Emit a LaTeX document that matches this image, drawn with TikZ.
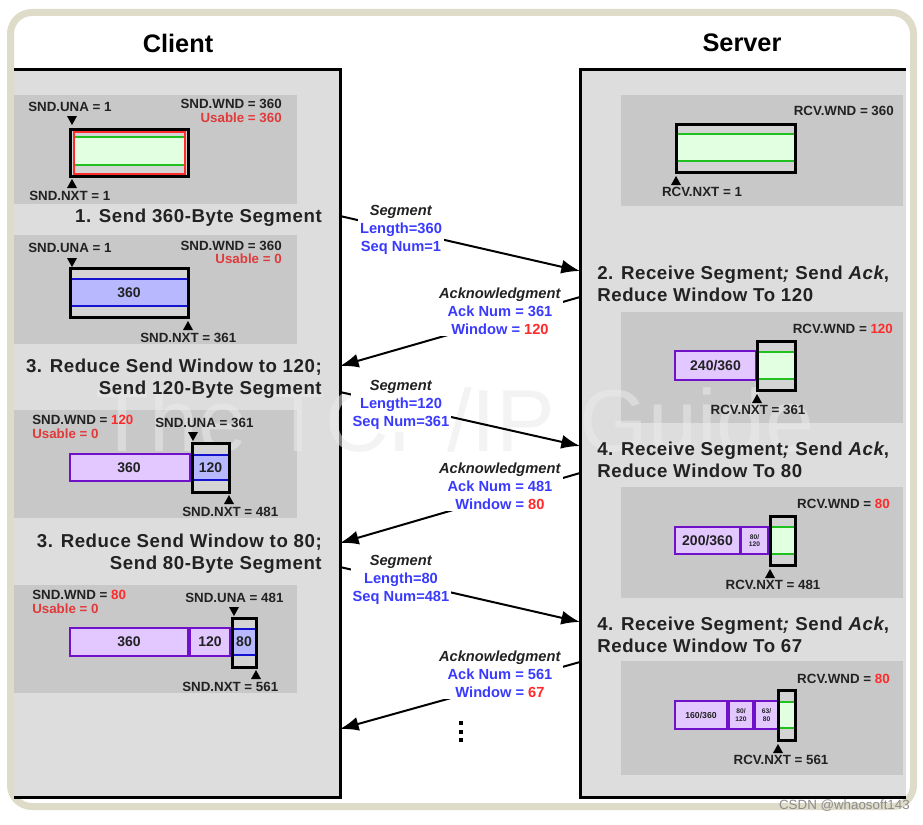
\documentclass[tikz,border=0pt]{standalone}
\usepackage{fontspec}
\setmainfont{Liberation Sans}
\newfontfamily\stepfont[LetterSpace=3]{Liberation Sans}
\usetikzlibrary{arrows.meta}
\definecolor{beige}{HTML}{DEDCC8}
\definecolor{panel}{HTML}{DDDDDD}
\definecolor{boxg}{HTML}{C8C8C8}
\definecolor{txt}{HTML}{222222}
\definecolor{wred}{HTML}{FF2A2A}
\definecolor{ured}{HTML}{E03A3A}
\definecolor{mblue}{HTML}{3A3AFF}
\definecolor{pfill}{HTML}{E2C8FF}
\definecolor{pline}{HTML}{7010C8}
\definecolor{bfill}{HTML}{B8B8FF}
\definecolor{bline}{HTML}{1414D0}
\definecolor{gfill}{HTML}{E2FFE2}
\definecolor{gline}{HTML}{20C020}
\definecolor{innerg}{HTML}{D4D4D4}
\definecolor{wmark}{HTML}{EAEAEA}
\newcommand\ptrdown[2]{\fill[black] ({#1-5},{#2}) -- ({#1+5},{#2}) -- ({#1},{#2+9}) -- cycle;}
\newcommand\ptrup[2]{\fill[black] ({#1-5},{#2+9}) -- ({#1+5},{#2+9}) -- ({#1},{#2}) -- cycle;}
% green receive window: frame x1 y1 x2 y2, band b1 b2
\newcommand\gwin[6]{%
  \fill[innerg] (#1,#2) rectangle (#3,#4);
  \fill[gfill] (#1,#5) rectangle (#3,#6);
  \draw[gline, line width=1.5pt] (#1,#5) -- (#3,#5) (#1,#6) -- (#3,#6);
  \draw[line width=2.25pt] (#1,#2) rectangle (#3,#4);}
\newcommand\pbox[4]{\draw[pline, fill=pfill, line width=1.5pt] (#1,#2) rectangle (#3,#4);}
\begin{document}
\begin{tikzpicture}[x=0.75pt,y=-0.75pt,
  ttl/.style={font=\fontsize{19}{22}\selectfont\bfseries, text=black},
  stepbox/.style={font=\stepfont\fontsize{14}{16.5}\selectfont\bfseries, text=txt, inner sep=0pt},
  lbl/.style={font=\fontsize{10}{12}\selectfont\bfseries, text=txt, inner sep=0pt},
  num/.style={font=\fontsize{10.5}{12}\selectfont\bfseries, text=txt, inner sep=0pt},
  tiny/.style={font=\fontsize{5}{5.5}\selectfont\bfseries, text=txt, inner sep=0pt, align=center},
  msg/.style={font=\fontsize{11}{13.5}\selectfont\bfseries, align=center, fill=white, inner sep=1.5pt, text=mblue},
  arr/.style={line width=1.5pt, -{Latex[length=14pt,width=10.5pt]}},
  edge/.style={line width=2.25pt}]
\useasboundingbox (0,0) rectangle (923,824);
% outer frame
\path[fill=white, draw=beige, line width=5.25pt, rounded corners=16pt] (10.5,12.5) rectangle (913.5,806.5);

% titles
\node[ttl] (ctitle) at (178,43) {Client};
\node[ttl] (stitle) at (742,43) {Server};

% panels
\fill[panel] (14,70) rectangle (340,797);
\draw[edge] (14,70) -- (340,70) -- (340,797) -- (14,797);
\fill[panel] (580,70) rectangle (906,797);
\draw[edge] (906,70) -- (580,70) -- (580,797) -- (906,797);

% gray boxes
\fill[boxg] (14,95) rectangle (297,204);
\fill[boxg] (14,235) rectangle (297,344);
\fill[boxg] (14,410) rectangle (297,518);
\fill[boxg] (14,585) rectangle (297,693);
\fill[boxg] (621,95) rectangle (903,206);
\fill[boxg] (621,312) rectangle (903,423);
\fill[boxg] (621,487) rectangle (903,598);
\fill[boxg] (621,661) rectangle (903,775);

% watermark
\node[font=\fontsize{66}{70}\selectfont, text=wmark, opacity=0.55, inner sep=0pt] (wm) at (455,420) {The TCP/IP Guide};

% ---------- Client box 1
\node[lbl, anchor=west] (cuna1) at (28,107) {SND.UNA = 1};
\node[lbl, anchor=east] (cwnd1) at (282,104) {SND.WND = 360};
\node[lbl, anchor=east, text=ured] (cus1) at (282,118) {Usable = 360};
\ptrdown{72}{116}
\fill[innerg] (70,129) rectangle (188,176);
\fill[gfill] (73,137) rectangle (185,165);
\draw[gline, line width=1.5pt] (73,137) -- (185,137) (73,165) -- (185,165);
\draw[wred, line width=1.5pt] (73.5,131.5) rectangle (184.5,173.5);
\draw[line width=2.25pt] (70,129) rectangle (188,176);
\ptrup{72}{179}
\node[lbl, anchor=west] (cnxt1) at (29,196) {SND.NXT = 1};

\node[stepbox, anchor=east] (cst1) at (322,218) {1. Send 360-Byte Segment};

% ---------- Client box 2
\node[lbl, anchor=west] (cuna2) at (28,248) {SND.UNA = 1};
\node[lbl, anchor=east] (cwnd2) at (282,246) {SND.WND = 360};
\node[lbl, anchor=east, text=ured] (cus2) at (282,259) {Usable = 0};
\ptrdown{72}{258}
\fill[innerg] (70,268) rectangle (188,317);
\fill[bfill] (70,279) rectangle (188,306);
\draw[bline, line width=1.5pt] (70,279) -- (188,279) (70,306) -- (188,306);
\draw[line width=2.25pt] (70,268) rectangle (188,317);
\node[num] (cb2) at (129,293) {360};
\ptrup{188}{321}
\node[lbl, anchor=west] (cnxt2) at (140,338) {SND.NXT = 361};

\node[stepbox, anchor=east, align=right] (cst2) at (322,379) {3. Reduce Send Window to 120;\\Send 120-Byte Segment};

% ---------- Client box 3
\node[lbl, anchor=west] (cwnd3) at (32,420) {SND.WND = \textcolor{wred}{120}};
\node[lbl, anchor=west, text=ured] (cus3) at (32,434) {Usable = 0};
\node[lbl, anchor=west] (cuna3) at (155,423) {SND.UNA = 361};
\ptrdown{193}{432}
\pbox{70}{454}{190}{481}
\node[num] (c3a) at (129,468) {360};
\fill[innerg] (192,443) rectangle (229,492);
\fill[bfill] (192,454) rectangle (229,481);
\draw[bline, line width=1.5pt] (192,455) -- (229,455) (192,480) -- (229,480);
\draw[line width=2.25pt] (192,443) rectangle (229,492);
\node[num] (c3b) at (210.5,468) {120};
\ptrup{229}{495}
\node[lbl, anchor=west] (cnxt3) at (182,512) {SND.NXT = 481};

\node[stepbox, anchor=east, align=right] (cst3) at (322,554) {3. Reduce Send Window to 80;\\Send 80-Byte Segment};

% ---------- Client box 4
\node[lbl, anchor=west] (cwnd4) at (32,595) {SND.WND = \textcolor{wred}{80}};
\node[lbl, anchor=west, text=ured] (cus4) at (32,609) {Usable = 0};
\node[lbl, anchor=west] (cuna4) at (185,598) {SND.UNA = 481};
\ptrdown{234}{607}
\pbox{70}{628}{188}{656}
\node[num] (c4a) at (129,642) {360};
\pbox{190}{628}{230}{656}
\node[num] (c4b) at (210,642) {120};
\fill[innerg] (232,618) rectangle (256,667);
\fill[bfill] (232,628) rectangle (256,656);
\draw[bline, line width=1.5pt] (232,629) -- (256,629) (232,655) -- (256,655);
\draw[line width=2.25pt] (232,618) rectangle (256,667);
\node[num] (c4c) at (244,642) {80};
\ptrup{256}{670}
\node[lbl, anchor=west] (cnxt4) at (182,687) {SND.NXT = 561};

% ---------- Server box 1
\node[lbl, anchor=east] (swnd1) at (894,111) {RCV.WND = 360};
\gwin{676}{124}{795}{172}{134}{161}
\ptrup{676}{176}
\node[lbl] (snxt1) at (702,192) {RCV.NXT = 1};

\node[stepbox, anchor=west, align=left] (sst1) at (597,284) {2. Receive Segment\textit{;} Send \textit{Ack},\\Reduce Window To 120};

% ---------- Server box 2
\node[lbl, anchor=east] (swnd2) at (893,329) {RCV.WND = \textcolor{wred}{120}};
\pbox{675}{351}{756}{380}
\node[num] (s2a) at (715.5,365.5) {240/360};
\gwin{757}{341}{795}{390}{352}{379}
\ptrup{757}{394}
\node[lbl] (snxt2) at (758,410) {RCV.NXT = 361};

\node[stepbox, anchor=west, align=left] (sst2) at (597,460) {4. Receive Segment\textit{;} Send \textit{Ack},\\Reduce Window To 80};

% ---------- Server box 3
\node[lbl, anchor=east] (swnd3) at (890,504) {RCV.WND = \textcolor{wred}{80}};
\pbox{675}{527}{740}{554}
\node[num] (s3a) at (707.5,540.5) {200/360};
\pbox{741}{527}{768}{554}
\node[tiny] (s3b) at (754.5,540.5) {80/\\120};
\gwin{770}{516}{795}{565}{527}{554}
\ptrup{770}{569}
\node[lbl] (snxt3) at (773,585) {RCV.NXT = 481};

\node[stepbox, anchor=west, align=left] (sst3) at (597,635) {4. Receive Segment\textit{;} Send \textit{Ack},\\Reduce Window To 67};

% ---------- Server box 4
\node[lbl, anchor=east] (swnd4) at (890,679) {RCV.WND = \textcolor{wred}{80}};
\pbox{675}{701}{727}{729}
\node[tiny, font=\fontsize{6.5}{7}\selectfont\bfseries] (s4a) at (701,715) {160/360};
\pbox{729}{701}{753}{729}
\node[tiny] (s4b) at (741,715) {80/\\120};
\pbox{755}{701}{778}{729}
\node[tiny] (s4c) at (766.5,715) {63/\\80};
\gwin{778}{690}{795}{740}{702}{728}
\ptrup{778}{744}
\node[lbl] (snxt4) at (781,760) {RCV.NXT = 561};

% ---------- messages
\coordinate (cs1) at (340,216);  \coordinate (ss1) at (580,271);
\coordinate (sa1) at (580,297);  \coordinate (ca1) at (340,366);
\coordinate (cs2) at (340,392);  \coordinate (ss2) at (580,446);
\coordinate (sa2) at (580,473);  \coordinate (ca2) at (340,543);
\coordinate (cs3) at (340,567);  \coordinate (ss3) at (580,622);
\coordinate (sa3) at (580,662);  \coordinate (ca3) at (340,729);
\draw[arr] (cs1) -- (ss1);
\draw[arr] (sa1) -- (ca1);
\draw[arr] (cs2) -- (ss2);
\draw[arr] (sa2) -- (ca2);
\draw[arr] (cs3) -- (ss3);
\draw[arr] (sa3) -- (ca3);

\node[msg] (seg1) at (401,230) {\textcolor{txt}{\textit{Segment}}\\Length=360\\Seq Num=1};
\node[msg] (ack1) at (500,311) {\textcolor{txt}{\textit{Acknowledgment}}\\Ack Num = 361\\Window = \textcolor{wred}{120}};
\node[msg] (seg2) at (401,405) {\textcolor{txt}{\textit{Segment}}\\Length=120\\Seq Num=361};
\node[msg] (ack2) at (500,486) {\textcolor{txt}{\textit{Acknowledgment}}\\Ack Num = 481\\Window = \textcolor{wred}{80}};
\node[msg] (seg3) at (401,580) {\textcolor{txt}{\textit{Segment}}\\Length=80\\Seq Num=481};
\node[msg] (ack3) at (500,674) {\textcolor{txt}{\textit{Acknowledgment}}\\Ack Num = 561\\Window = \textcolor{wred}{67}};

% continuation dots
\fill[black] (459,721) rectangle (463,725);
\fill[black] (459,729.5) rectangle (463,733.5);
\fill[black] (459,738) rectangle (463,742);

% source watermark
\node[font=\fontsize{10}{12}\selectfont, text=black!45, anchor=east, inner sep=0pt] (csdn) at (910,806) {CSDN @whaosoft143};
\end{tikzpicture}
\end{document}
